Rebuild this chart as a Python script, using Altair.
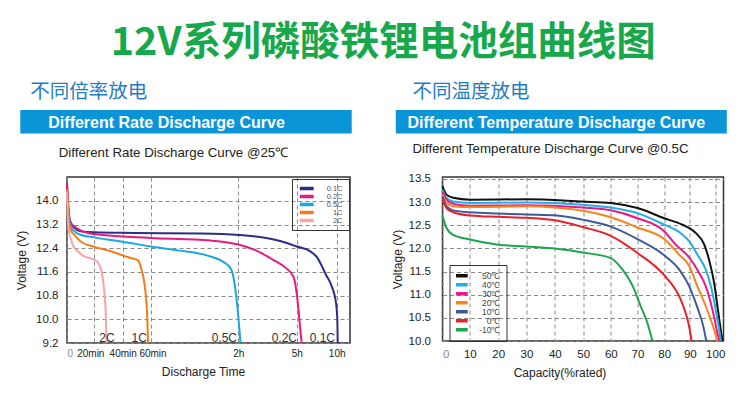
import altair as alt
import pandas as pd

TITLE = "12V系列磷酸铁锂电池组曲线图"

# ---------------- Left chart: different rate discharge @25℃ (time in minutes, voltage in V)
rate_names = ["0.1C", "0.2C", "0.5C", "1C", "2C"]
rate_colors = ["#2b2d87", "#e8197f", "#1ba8e0", "#f07d1c", "#f4a5a8"]

t_01c = [0, 0.73, 1.68, 2.93, 5.35, 9.74, 20, 48, 94.4, 122.2, 210.6, 251.6, 297.8, 407, 452, 482, 520, 557, 595, 604.5, 607.5]
v_01c = [14.55, 14.0, 13.45, 13.25, 13.09, 12.98, 12.94, 12.92, 12.9, 12.85, 12.74, 12.64, 12.47, 12.28, 12.1, 11.86, 11.5, 11.18, 10.55, 10.0, 9.2]

t_02c = [0, 0.73, 1.68, 2.93, 5.35, 9.74, 20, 40, 60, 101.2, 123.1, 174.6, 226, 267, 289.5, 297.8, 315, 327, 337.5]
v_02c = [14.6, 13.9, 13.4, 13.25, 13.14, 13.01, 12.88, 12.8, 12.75, 12.66, 12.52, 12.33, 12.02, 11.73, 11.45, 11.05, 10.25, 9.65, 9.2]

t_05c = [0, 0.73, 1.68, 2.93, 5.35, 9.74, 20, 31.8, 40, 60, 78.4, 97.8, 109.3, 115, 117.3, 119.6, 123.1, 126.8]
v_05c = [14.3, 13.7, 13.35, 13.1, 12.98, 12.86, 12.77, 12.68, 12.62, 12.46, 12.33, 12.17, 11.95, 11.7, 11.25, 10.3, 9.7, 9.2]

t_1c = [0, 0.73, 1.68, 2.93, 5.35, 9.74, 20, 31.8, 40, 45.9, 50.6, 52.9, 55.3, 56.7, 57.4, 57.9]
v_1c = [14.4, 13.8, 13.26, 13.0, 12.86, 12.64, 12.45, 12.3, 12.16, 12.07, 12.0, 11.75, 11.23, 10.6, 10.0, 9.2]

t_2c = [0, 0.73, 1.68, 2.93, 4.18, 5.35, 7.84, 12.67, 18.83, 22.4, 25.2, 27.0, 28.0, 28.6]
v_2c = [14.3, 13.3, 12.9, 12.7, 12.52, 12.42, 12.3, 12.13, 12.04, 11.93, 11.6, 10.95, 10.25, 9.2]

rate_series = {"0.1C": (t_01c, v_01c), "0.2C": (t_02c, v_02c), "0.5C": (t_05c, v_05c),
               "1C": (t_1c, v_1c), "2C": (t_2c, v_2c)}

rate_end_labels = ["2C", "1C", "0.5C", "0.2C", "0.1C"]
rate_label_t = [28.9, 51.7, 110.4, 261.8, 492]
rate_label_v = [9.37, 9.37, 9.37, 9.37, 9.37]

time_ticks = [0, 20, 40, 60, 120, 300, 600]
time_tick_labels = ["0", "20min", "40min", "60min", "2h", "5h", "10h"]
volt_ticks_left = [9.2, 10.0, 10.8, 11.6, 12.4, 13.2, 14.0]

# ---------------- Right chart: different temperature discharge @0.5C (capacity %, voltage V)
temp_names = ["50℃", "40℃", "30℃", "20℃", "10℃", "0℃", "-10℃"]
temp_colors = ["#111111", "#20aee6", "#e8198b", "#f5841f", "#3e5a98", "#e8202a", "#1aa64b"]

cap_50 = [0, 1.47, 3.9, 10, 30, 49.8, 60, 70, 80, 87.1, 92.4, 95.7, 97.6, 99.6, 100.9, 102.2, 102.9]
v_50 = [13.34, 13.16, 13.09, 13.05, 13.06, 13.01, 12.98, 12.87, 12.65, 12.51, 12.33, 12.08, 11.75, 11.25, 10.75, 10.24, 10.0]

cap_40 = [0, 1.47, 3.9, 10, 30, 49.8, 60, 70, 80, 85.9, 89.8, 93.0, 96.3, 98.3, 100.2, 101.8, 102.2]
v_40 = [13.27, 13.09, 13.01, 12.98, 12.99, 12.94, 12.88, 12.76, 12.51, 12.35, 12.15, 11.86, 11.54, 11.18, 10.68, 10.17, 10.0]

cap_30 = [0, 1.47, 3.9, 10, 30, 49.8, 60, 70, 80, 84.5, 89.8, 93.7, 96.3, 98.9, 100.9, 101.6]
v_30 = [13.23, 13.05, 12.96, 12.92, 12.93, 12.88, 12.82, 12.65, 12.37, 12.08, 11.8, 11.47, 11.18, 10.68, 10.17, 10.0]

cap_20 = [0, 1.47, 3.9, 10, 30, 40, 49.8, 60, 70, 80, 85.9, 89.8, 93.0, 96.3, 99.6, 100.9]
v_20 = [13.16, 12.98, 12.91, 12.89, 12.91, 12.88, 12.81, 12.67, 12.45, 12.2, 11.86, 11.62, 11.18, 10.75, 10.24, 10.0]

cap_10 = [0, 1.47, 3.9, 10, 20, 30, 40.6, 49.8, 60, 70, 80, 85.9, 89.8, 93.0, 95.3, 96.5]
v_10 = [13.12, 12.91, 12.82, 12.78, 12.75, 12.73, 12.71, 12.62, 12.47, 12.2, 11.85, 11.54, 11.18, 10.72, 10.32, 10.0]

cap_0 = [0, 1.47, 3.9, 10, 20, 30, 40.6, 49.8, 60, 70, 80, 85.9, 88.4, 90, 90.7]
v_0 = [13.05, 12.87, 12.78, 12.71, 12.68, 12.66, 12.6, 12.46, 12.27, 11.9, 11.42, 10.96, 10.6, 10.24, 10.0]

cap_m10 = [0, 1.47, 3.9, 10, 20, 30, 40.6, 49.8, 60, 64.4, 68.1, 71.2, 73.7, 75.6]
v_m10 = [12.7, 12.44, 12.29, 12.19, 12.08, 12.04, 11.99, 11.91, 11.79, 11.54, 11.2, 10.75, 10.39, 10.0]

temp_series = {"50℃": (cap_50, v_50), "40℃": (cap_40, v_40), "30℃": (cap_30, v_30),
               "20℃": (cap_20, v_20), "10℃": (cap_10, v_10), "0℃": (cap_0, v_0),
               "-10℃": (cap_m10, v_m10)}

cap_ticks = [0, 10, 20, 30, 40, 50, 60, 70, 80, 90, 100]
volt_ticks_right = [10.0, 10.5, 11.0, 11.5, 12.0, 12.5, 13.0, 13.5]

# ---------------- tables
rate_rows = []
for name, (ts, vs) in rate_series.items():
    for i, (t, v) in enumerate(zip(ts, vs)):
        rate_rows.append({"rate": name, "t": t, "v": v, "i": i})
rate_df = pd.DataFrame(rate_rows)
rate_lab_df = pd.DataFrame({"lab": rate_end_labels, "t": rate_label_t, "v": rate_label_v})

temp_rows = []
for name, (cs, vs) in temp_series.items():
    for i, (c, v) in enumerate(zip(cs, vs)):
        temp_rows.append({"temp": name, "c": c, "v": v, "i": i})
temp_df = pd.DataFrame(temp_rows)

LAT = "Liberation Sans"
CJK = "Noto Sans CJK SC"
GRID = dict(grid=True, gridDash=[4, 3], gridColor="#8a8a8a", gridWidth=1, ticks=False, domain=False,
            labelOverlap=False)
NBSP = "\u00a0"


def label_expr(values, labels):
    expr = "''"
    for v, l in zip(reversed(values), reversed(labels)):
        expr = f"datum.value == {v} ? '{l}' : ({expr})"
    return expr


zero_grey = {"condition": {"test": "datum.value == 0", "value": "#8a8a8a"}, "value": "#222222"}
min_shift = {"condition": [{"test": "datum.value == 20", "value": -4},
                           {"test": "datum.value == 60", "value": 1.5}], "value": 0}


def header(cn_text, cn_x, bar_x, bar_x2, banner, banner_x, sub, sub_x, sub_y):
    base = alt.Chart(pd.DataFrame({"k": [0]}))
    cn = base.mark_text(text=cn_text, font=CJK, fontSize=19.5, color="#1f7cc6",
                        align="left", baseline="middle").encode(x=alt.value(cn_x), y=alt.value(-85))
    bar = base.mark_rect(color="#0b95d9").encode(x=alt.value(bar_x), x2=alt.value(bar_x2),
                                                 y=alt.value(-67), y2=alt.value(-43.5))
    btxt = base.mark_text(text=banner, font=LAT, fontWeight="bold", fontSize=16, color="white",
                          align="left", baseline="middle").encode(x=alt.value(banner_x), y=alt.value(-54))
    stxt = base.mark_text(text=sub, font=LAT, fontSize=13.3, color="#222222",
                          align="left", baseline="middle").encode(x=alt.value(sub_x), y=alt.value(sub_y))
    return [cn, bar, btxt, stxt]


# ---------------- left panel
x_left = alt.X("t:Q",
               scale=alt.Scale(domain=[0, 20, 40, 60, 120, 300, 600, 700],
                               range=[0, 27.3, 55.7, 84, 171.3, 229.7, 269.7, 283]),
               axis=alt.Axis(values=time_ticks, labelExpr=label_expr(time_ticks, time_tick_labels),
                             labelFontSize=10, labelColor=zero_grey, labelPadding=5, labelOffset=min_shift,
                             title="Discharge Time", titleFontSize=12, titleFontWeight="normal",
                             titleColor="#222222", titlePadding=8, titleX=136, **GRID))
y_left = alt.Y("v:Q", scale=alt.Scale(domain=[9.2, 14.81], nice=False, zero=False),
               axis=alt.Axis(values=volt_ticks_left, format=".1f", labelFontSize=11.5, labelColor="#222222",
                             labelPadding=9, title="Voltage (V)", titleFontSize=12, titleFontWeight="normal",
                             titleColor="#222222", titlePadding=7, **GRID))

left_lines = alt.Chart(rate_df).mark_line(strokeWidth=2, interpolate="monotone").encode(
    x=x_left, y=y_left,
    color=alt.Color("rate:N", scale=alt.Scale(domain=rate_names, range=rate_colors),
                    legend=alt.Legend(title=None, orient="none", legendX=225, legendY=2, direction="vertical",
                                      strokeColor="#333333", padding=6, symbolType="M-4,0H4", symbolSize=12,
                                      symbolStrokeWidth=3.5, symbolOffset=5, clipHeight=7,
                                      labelFontSize=7.5, labelColor="#555555", labelFont=LAT, rowPadding=0,
                                      labelAlign="right", labelOffset=32,
                                      labelExpr=f"datum.label + '{NBSP * 6}'")),
    order="i:Q",
)
left_text = alt.Chart(rate_lab_df).mark_text(font=LAT, fontSize=12, color="#333333", baseline="middle").encode(
    x=x_left, y=y_left, text="lab:N")

left = alt.layer(
    *header("不同倍率放电", -36.7, -46.7, 284.7, "Different Rate Discharge Curve", -18.7,
            "Different Rate Discharge Curve @25℃", -8.3, -23.7),
    left_lines, left_text,
).properties(width=283, height=166)

# ---------------- right panel
x_right = alt.X("c:Q",
                scale=alt.Scale(domain=[0, 10, 20, 30, 40, 50, 60, 70, 80, 90, 100, 103.3],
                                range=[0, 27.3, 55.7, 84, 112.3, 140.7, 168.3, 195, 221.7, 247.3, 272.7, 281]),
                axis=alt.Axis(values=cap_ticks, labelFontSize=11.5, labelColor=zero_grey,
                              labelPadding=7, title="Capacity(%rated)", titleFontSize=12, titleFontWeight="normal",
                              titleColor="#222222", titlePadding=8, titleX=117, **GRID))
y_right = alt.Y("v:Q", scale=alt.Scale(domain=[10.0, 13.54], nice=False, zero=False),
                axis=alt.Axis(values=volt_ticks_right, format=".1f", labelFontSize=11.5, labelColor="#222222",
                              labelPadding=12, title="Voltage (V)", titleFontSize=12, titleFontWeight="normal",
                              titleColor="#222222", titlePadding=4, **GRID))

right_lines = alt.Chart(temp_df).mark_line(strokeWidth=2, interpolate="monotone").encode(
    x=x_right, y=y_right,
    color=alt.Color("temp:N", scale=alt.Scale(domain=temp_names, range=temp_colors),
                    legend=alt.Legend(title=None, orient="none", legendX=7, legendY=88, direction="vertical",
                                      strokeColor="#333333", padding=6.5, symbolType="M-4,0H4", symbolSize=14,
                                      symbolStrokeWidth=3.5, symbolOffset=0, clipHeight=8.3,
                                      labelFontSize=8.5, labelColor="#444444", labelFont=LAT, rowPadding=0,
                                      labelAlign="right", labelOffset=35,
                                      labelExpr=f"datum.label + '{NBSP * 2}'")),
    order="i:Q",
)

right = alt.layer(
    *header("不同温度放电", -30, -46.7, 284.3, "Different Temperature Discharge Curve", -35,
            "Different Temperature Discharge Curve @0.5C", -30, -28.3),
    right_lines,
).properties(width=281, height=164)

chart = alt.hconcat(left, right, spacing=36.5).resolve_scale(
    x="independent", y="independent", color="independent"
).properties(
    title=alt.TitleParams(TITLE, font=CJK, fontSize=39.5, fontWeight="bold", color="#17a84b",
                          anchor="middle", offset=17.5, dx=12),
    padding={"left": 6, "top": 15, "right": 5, "bottom": 5},
    background="white",
).configure_view(stroke="#333333", strokeWidth=1.5).configure_axis(
    labelFont=LAT, titleFont=LAT
)

chart.save("out.html", embed_options={"renderer": "svg", "actions": False})
